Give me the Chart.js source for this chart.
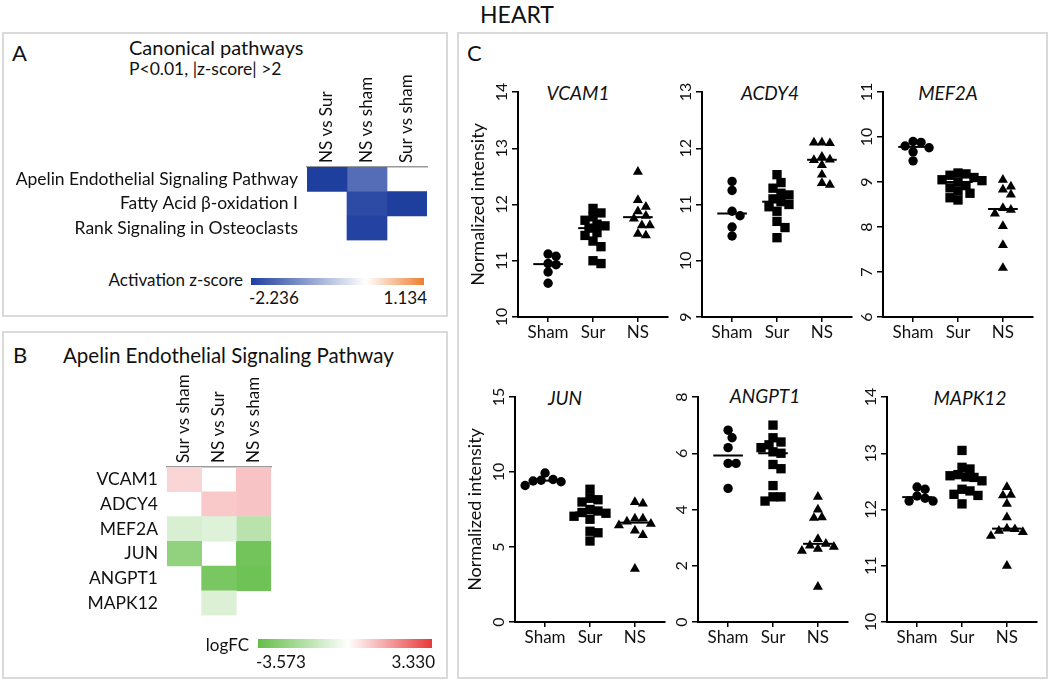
<!DOCTYPE html>
<html>
<head>
<meta charset="utf-8">
<script src="https://cdn.jsdelivr.net/npm/chart.js@4.4.1/dist/chart.umd.min.js"></script>
<style>
  body { margin: 0; width: 1050px; height: 680px; background: #fff; position: relative; overflow: hidden;
         font-family: Lato, "Open Sans", sans-serif; color: #111; }
  .t { position: absolute; line-height: 1; white-space: nowrap; }
  .box { position: absolute; border: 2px solid #dadada; box-sizing: border-box; }
  .gene { position: absolute; font-size: 19px; font-style: italic; line-height: 1; transform: translateX(-50%); }
  canvas { position: absolute; }
</style>
</head>
<body>

<div class="t" style="left:517px;top:3px;font-size:23px;transform:translateX(-50%)">HEART</div>

<div class="box" style="left:2px;top:32px;width:446px;height:285px"></div>
<div class="box" style="left:2px;top:331px;width:446px;height:348px"></div>
<div class="box" style="left:457px;top:32px;width:591px;height:647px"></div>

<!-- panel A -->
<div class="t" style="left:12px;top:42px;font-size:22px">A</div>
<div class="t" style="left:129px;top:37px;font-size:20px">Canonical pathways</div>
<div class="t" style="left:129px;top:60px;font-size:17.5px">P&lt;0.01, |z-score| &gt;2</div>
<canvas id="heatA" width="430" height="200" style="left:5px;top:60px"></canvas>
<div class="t" style="left:0;width:243px;text-align:right;top:271px;font-size:17px">Activation z-score</div>
<div id="barA" style="position:absolute;left:251px;top:278px;width:173px;height:7px"></div>
<div class="t" style="left:249px;top:289px;font-size:17px">-2.236</div>
<div class="t" style="left:0;width:427px;text-align:right;top:289px;font-size:17px">1.134</div>

<!-- panel B -->
<div class="t" style="left:13px;top:344px;font-size:22px">B</div>
<div class="t" style="left:63px;top:345px;font-size:20.5px">Apelin Endothelial Signaling Pathway</div>
<canvas id="heatB" width="435" height="275" style="left:5px;top:360px"></canvas>
<div class="t" style="left:0;width:249px;text-align:right;top:636px;font-size:17px">logFC</div>
<div id="barB" style="position:absolute;left:258px;top:639px;width:174px;height:9px"></div>
<div class="t" style="left:256px;top:653px;font-size:17px">-3.573</div>
<div class="t" style="left:0;width:435px;text-align:right;top:653px;font-size:17px">3.330</div>

<!-- panel C -->
<div class="t" style="left:467px;top:42px;font-size:22px">C</div>
<div class="gene" style="left:578px;top:83px">VCAM1</div>
<div class="gene" style="left:770px;top:83px">ACDY4</div>
<div class="gene" style="left:948px;top:83px">MEF2A</div>
<div class="gene" style="left:565px;top:388px">JUN</div>
<div class="gene" style="left:765px;top:386px">ANGPT1</div>
<div class="gene" style="left:970px;top:388px">MAPK12</div>
<canvas id="vcam1" width="222" height="270" style="left:458px;top:77px"></canvas>
<canvas id="acdy4" width="222" height="270" style="left:642px;top:77px"></canvas>
<canvas id="mef2a" width="222" height="270" style="left:823px;top:77px"></canvas>
<canvas id="jun" width="222" height="270" style="left:455px;top:382px"></canvas>
<canvas id="angpt1" width="222" height="270" style="left:638px;top:382px"></canvas>
<canvas id="mapk12" width="222" height="270" style="left:827px;top:382px"></canvas>

<script>
// ---------------- DATA -----------------
// panel A: activation z-scores, one array per comparison (rows = pathways)
const pathways = ["Apelin Endothelial Signaling Pathway", "Fatty Acid β-oxidation I", "Rank Signaling in Osteoclasts"];
const pathwayComparisons = ["NS vs Sur", "NS vs sham", "Sur vs sham"];
const zNSvsSur = [-2.236, null, null];
const zNSvsSham = [-1.7, -2.1, -2.2];
const zSurvsSham = [null, -2.236, null];
const zMin = -2.236;
const zMax = 1.134;

// panel B: logFC, one array per comparison (rows = genes)
const apelinGenes = ["VCAM1", "ADCY4", "MEF2A", "JUN", "ANGPT1", "MAPK12"];
const geneComparisons = ["Sur vs sham", "NS vs Sur", "NS vs sham"];
const fcSurvsSham = [0.7, null, -0.9, -2.5, null, null];
const fcNSvsSur = [null, 0.9, -0.75, null, -3.1, -0.8];
const fcNSvsSham = [1.0, 1.0, -1.6, -3.2, -3.3, null];
const fcMin = -3.573;
const fcMax = 3.33;

// panel C: normalized intensity per group
const groupLabels = ["Sham", "Sur", "NS"];

const vcam1Ticks = [10, 11, 12, 13, 14];
const vcam1Sham = [11.12, 11.08, 10.95, 10.93, 10.8, 10.6];
const vcam1Sur = [11.93, 11.85, 11.78, 11.72, 11.65, 11.62, 11.58, 11.5, 11.45, 11.35, 11.25, 11.0, 10.95];
const vcam1NS = [12.58, 12.08, 11.96, 11.88, 11.8, 11.75, 11.63, 11.63, 11.48, 11.45];

const acdy4Ticks = [9, 10, 11, 12, 13];
const acdy4Sham = [11.41, 11.25, 10.88, 10.8, 10.6, 10.44];
const acdy4Sur = [11.53, 11.39, 11.29, 11.2, 11.17, 11.1, 11.05, 11.0, 10.96, 10.88, 10.7, 10.59, 10.41];
const acdy4NS = [12.1, 12.09, 12.1, 11.85, 11.8, 11.79, 11.7, 11.53, 11.38, 11.35];

const mef2aTicks = [6, 7, 8, 9, 10, 11];
const mef2aSham = [9.9, 9.88, 9.8, 9.76, 9.67, 9.47];
const mef2aSur = [9.2, 9.18, 9.15, 9.1, 9.05, 9.03, 9.0, 8.92, 8.87, 8.8, 8.75, 8.65, 8.6];
const mef2aNS = [9.05, 8.9, 8.83, 8.72, 8.42, 8.38, 8.3, 8.02, 7.6, 7.09];

const junTicks = [0, 5, 10, 15];
const junSham = [9.93, 9.5, 9.45, 9.4, 9.35, 9.1];
const junSur = [8.85, 8.25, 8.15, 8.0, 7.5, 7.4, 7.3, 7.25, 7.05, 6.85, 6.05, 5.95, 5.4];
const junNS = [8.0, 7.9, 6.9, 6.9, 6.7, 6.55, 6.45, 6.1, 5.8, 3.55];

const angpt1Ticks = [0, 2, 4, 6, 8];
const angpt1Sham = [6.82, 6.55, 6.2, 5.64, 5.64, 4.75];
const angpt1Sur = [7.0, 6.55, 6.4, 6.3, 6.2, 6.05, 6.0, 5.6, 5.45, 4.85, 4.45, 4.45, 4.3];
const angpt1NS = [4.45, 4.0, 3.72, 3.7, 2.95, 2.78, 2.72, 2.67, 2.6, 2.53, 1.25];

const mapk12Ticks = [10, 11, 12, 13, 14];
const mapk12Sham = [12.4, 12.36, 12.24, 12.2, 12.15, 12.15];
const mapk12Sur = [13.05, 12.75, 12.72, 12.62, 12.6, 12.58, 12.57, 12.51, 12.36, 12.33, 12.27, 12.25, 12.1];
const mapk12NS = [12.4, 12.26, 12.25, 12.1, 11.86, 11.66, 11.65, 11.62, 11.6, 11.53, 11.0];

// ----------- STYLE / HELPERS -------------
const FONT = "Lato, 'Open Sans', sans-serif";
const INK = "#111";
const WHITE = [255, 255, 255];
const BLUE = [31, 63, 159];
const ORANGE = [237, 125, 49];
const GREEN = [99, 190, 72];
const RED = [233, 56, 58];

const rgb = (c) => `rgb(${c.map(Math.round).join(",")})`;
const mix = (a, b, t) => rgb(a.map((v, i) => v + (b[i] - v) * Math.max(0, Math.min(1, t))));

const zColor = (v) => (v < 0 ? mix(WHITE, BLUE, v / zMin) : mix(WHITE, ORANGE, v / zMax));
const fcColor = (v) => (v < 0 ? mix(WHITE, GREEN, v / fcMin) : mix(WHITE, RED, v / fcMax));

const gradient = (lo, hi, loCol, hiCol) =>
    `linear-gradient(to right, ${rgb(loCol)} 0%, #fff ${(-lo / (hi - lo)) * 100}%, ${rgb(hiCol)} 100%)`;
document.getElementById("barA").style.background = gradient(zMin, zMax, BLUE, ORANGE);
document.getElementById("barB").style.background = gradient(fcMin, fcMax, GREEN, RED);

// -------------- HEATMAPS --------------
const heatmap = (id, rows, cols, colValues, colorFn, yW, topH, pad) => {
    const datasets = cols.map((c, j) => ({
        label: c,
        data: rows.map((r, i) => (colValues[j][i] == null ? null : [j, j + 1])),
        backgroundColor: rows.map((r, i) =>
            colValues[j][i] == null ? "rgba(0,0,0,0)" : colorFn(colValues[j][i])
        ),
        grouped: false,
        barPercentage: 1,
        categoryPercentage: 1,
        borderWidth: 0,
    }));

    new Chart(document.getElementById(id), {
        type: "bar",
        data: { labels: rows, datasets },
        options: {
            indexAxis: "y",
            responsive: false,
            animation: false,
            layout: { padding: pad },
            plugins: { legend: { display: false }, tooltip: { enabled: false } },
            scales: {
                x: { type: "linear", min: 0, max: cols.length, display: false },
                y: {
                    type: "category",
                    grid: { display: false, drawTicks: false },
                    border: { display: false },
                    ticks: { color: INK, font: { family: FONT, size: 17.5 }, padding: 9 },
                    afterFit: (s) => { s.width = yW; },
                },
                x2: {
                    type: "category",
                    labels: cols,
                    position: "top",
                    offset: true,
                    grid: { display: false, drawTicks: false },
                    border: { display: true, color: "#9a9a9a", width: 1.5 },
                    ticks: {
                        color: INK,
                        font: { family: FONT, size: 17, lineHeight: 1.2 },
                        padding: 4,
                        minRotation: 90,
                        maxRotation: 90,
                        labelOffset: 20,
                    },
                    afterFit: (s) => { s.height = topH; },
                },
            },
        },
    });
};

heatmap("heatA", pathways, pathwayComparisons, [zNSvsSur, zNSvsSham, zSurvsSham], zColor, 302, 107, { right: 8, bottom: 8 });
heatmap("heatB", apelinGenes, geneComparisons, [fcSurvsSham, fcNSvsSur, fcNSvsSham], fcColor, 162, 107, { right: 169, bottom: 7 });

// -------------- DOT PLOTS --------------
const PLOT_H = 225;
const CAT_PX = 45;
const MARKERS = ["circle", "rect", "triangle"];
const RADII = [4.7, 6.6, 5.8];

const median = (vals) => {
    const s = [...vals].sort((a, b) => a - b);
    const m = Math.floor(s.length / 2);
    return s.length % 2 ? s[m] : (s[m - 1] + s[m]) / 2;
};

// simple beeswarm: nudge each point sideways until it no longer overlaps
const swarm = (vals, pxPerUnit) => {
    const d = 8;
    const placed = [];
    return vals.map((v) => {
        const py = v * pxPerUnit;
        for (let k = 0; k < 40; k++) {
            const cands = k === 0 ? [0] : [(k * d) / 2, (-k * d) / 2];
            for (const dx of cands) {
                if (placed.every((p) => Math.hypot(p.x - dx, p.y - py) >= d)) {
                    placed.push({ x: dx, y: py });
                    return dx / CAT_PX;
                }
            }
        }
        return 0;
    });
};

const yTickText = {
    id: "yTickText",
    afterDraw(chart) {
        const s = chart.scales.y;
        const ctx = chart.ctx;
        ctx.save();
        ctx.fillStyle = INK;
        ctx.font = `16px ${FONT}`;
        ctx.textAlign = "center";
        ctx.textBaseline = "middle";
        s.ticks.forEach((t) => {
            ctx.save();
            ctx.translate(s.right - 16, s.getPixelForValue(t.value));
            ctx.rotate(-Math.PI / 2);
            ctx.fillText(String(t.value), 0, 0);
            ctx.restore();
        });
        ctx.restore();
    },
};

const dotPlot = (id, groups, ticks, withTitle) => {
    const yMin = ticks[0];
    const yMax = ticks[ticks.length - 1];
    const pxPerUnit = PLOT_H / (yMax - yMin);

    const medians = groups.map((vals, i) => {
        const m = median(vals);
        return {
            data: [{ x: i - 0.33, y: m }, { x: i + 0.33, y: m }],
            showLine: true,
            borderColor: "#000",
            borderWidth: 2,
            pointRadius: 0,
            clip: false,
        };
    });
    const points = groups.map((vals, i) => {
        const off = swarm(vals, pxPerUnit);
        return {
            data: vals.map((v, k) => ({ x: i + off[k], y: v })),
            pointStyle: MARKERS[i],
            pointRadius: RADII[i],
            backgroundColor: "#000",
            borderWidth: 0,
            clip: false,
        };
    });

    new Chart(document.getElementById(id), {
        type: "scatter",
        data: { datasets: [...medians, ...points] },
        options: {
            responsive: false,
            animation: false,
            layout: { padding: { top: 15, right: 12, left: 0, bottom: 0 } },
            plugins: { legend: { display: false }, tooltip: { enabled: false } },
            scales: {
                x: {
                    type: "linear",
                    min: -0.67,
                    max: 2.67,
                    afterBuildTicks: (s) => { s.ticks = groupLabels.map((g, i) => ({ value: i })); },
                    ticks: { callback: (v) => groupLabels[v], color: INK, font: { family: FONT, size: 17 }, padding: 0, maxRotation: 0, autoSkip: false },
                    grid: { drawOnChartArea: false, tickLength: 5, color: "#000", lineWidth: 1.5 },
                    border: { color: "#000", width: 2 },
                    afterFit: (s) => { s.height = 30; },
                },
                y: {
                    min: yMin,
                    max: yMax,
                    afterBuildTicks: (s) => { s.ticks = ticks.map((v) => ({ value: v })); },
                    ticks: { display: false },
                    grid: { drawOnChartArea: false, tickLength: 6, color: "#000", lineWidth: 1.5 },
                    border: { color: "#000", width: 2 },
                    title: {
                        display: withTitle,
                        text: "Normalized intensity",
                        color: INK,
                        font: { family: FONT, size: 18 },
                        padding: { top: 9, bottom: 0 },
                    },
                    afterFit: (s) => { s.width = 60; },
                },
            },
        },
        plugins: [yTickText],
    });
};

dotPlot("vcam1", [vcam1Sham, vcam1Sur, vcam1NS], vcam1Ticks, true);
dotPlot("acdy4", [acdy4Sham, acdy4Sur, acdy4NS], acdy4Ticks, false);
dotPlot("mef2a", [mef2aSham, mef2aSur, mef2aNS], mef2aTicks, false);
dotPlot("jun", [junSham, junSur, junNS], junTicks, true);
dotPlot("angpt1", [angpt1Sham, angpt1Sur, angpt1NS], angpt1Ticks, false);
dotPlot("mapk12", [mapk12Sham, mapk12Sur, mapk12NS], mapk12Ticks, false);
</script>
</body>
</html>
